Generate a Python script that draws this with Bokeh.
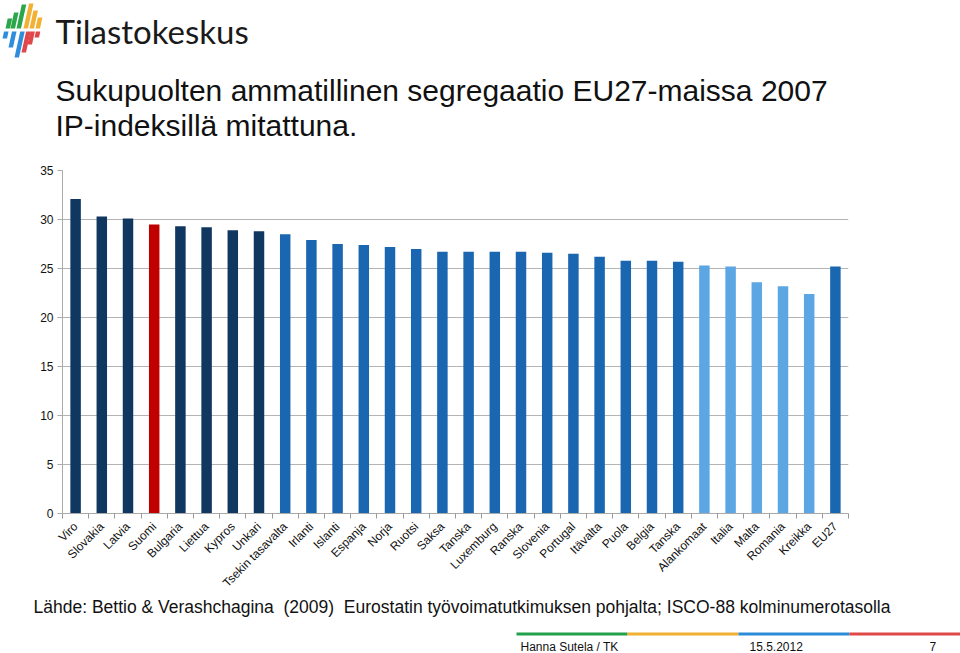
from bokeh.plotting import figure
from bokeh.layouts import column
from bokeh.models import FixedTicker, Range1d
from bokeh.core.properties import value
from bokeh.embed import file_html
from bokeh.resources import INLINE

countries = ["Viro", "Slovakia", "Latvia", "Suomi", "Bulgaria", "Liettua", "Kypros",
             "Unkari", "Tsekin tasavalta", "Irlanti", "Islanti", "Espanja", "Norja",
             "Ruotsi", "Saksa", "Tanska", "Luxemburg", "Ranska", "Slovenia", "Portugal",
             "Itävalta", "Puola", "Belgia", "Tanska", "Alankomaat", "Italia", "Malta",
             "Romania", "Kreikka", "EU27"]
ip_index = [32.1, 30.3, 30.1, 29.5, 29.3, 29.2, 28.9, 28.8, 28.5, 27.9, 27.5, 27.4, 27.2,
            27.0, 26.7, 26.7, 26.7, 26.7, 26.6, 26.5, 26.2, 25.8, 25.8, 25.7, 25.3, 25.2,
            23.6, 23.2, 22.4, 25.2]
groups = ["high"] * 3 + ["fi"] + ["high"] * 4 + ["mid"] * 16 + ["low"] * 5 + ["mid"]
y_ticks = [0, 5, 10, 15, 20, 25, 30, 35]

title_lines = ["Sukupuolten ammatillinen segregaatio EU27-maissa 2007",
               "IP-indeksillä mitattuna."]
source_text = ("Lähde: Bettio & Verashchagina \u00a0(2009) \u00a0Eurostatin työvoimatutkimuksen "
               "pohjalta; ISCO-88 kolminumerotasolla")
footer_texts = ["Hanna Sutela / TK", "15.5.2012", "7"]

palette = {"high": "#10375F", "fi": "#C00000", "mid": "#1A66B0", "low": "#5CA6E4"}

W = 960
H_HEAD, H_CHART, H_FOOT = 160, 437, 56
FONT = "Liberation Sans"


def blank(h):
    f = figure(width=W, height=h, output_backend="svg", toolbar_location=None,
               x_range=Range1d(0, W), y_range=Range1d(h, 0),
               x_axis_type=None, y_axis_type=None, frame_align=False,
               min_border=0, min_border_left=0, min_border_right=0,
               min_border_top=0, min_border_bottom=0)
    f.outline_line_color = None
    f.grid.visible = False
    return f


# ---------------- header: logo + title ----------------
head = blank(H_HEAD)
stripes = [
    (5, 18, 28, "#2CA64A"), (10, 12, 28, "#2CA64A"), (16, 4, 28, "#2CA64A"),
    (23, 3, 28, "#F2B134"), (29, 10, 28, "#F2B134"), (35, 17, 28, "#F2B134"),
    (2, 31, 38, "#2F8DDC"), (8, 31, 47, "#2F8DDC"), (14, 31, 57, "#2F8DDC"),
    (21, 31, 52, "#E0474A"), (27, 31, 44, "#E0474A"), (34, 31, 37, "#E0474A"),
]
pxs, pys, pcs = [], [], []
for x0, ytop, ybot, col in stripes:
    xt = x0 + 0.22 * (ybot - ytop)
    pxs.append([x0, x0 + 4.5, xt + 4.5, xt])
    pys.append([ybot, ybot, ytop, ytop])
    pcs.append(col)
head.patches(pxs, pys, fill_color=pcs, line_color=None)
head.text(x=[55], y=[30], text=["Tilastokeskus"], text_font=value("Lato"),
          text_font_size="33px", text_color="#1a1a1a", text_baseline="alphabetic")
head.text(x=[55, 55], y=[90, 125], text=title_lines, text_font=value(FONT),
          text_font_size="30px", text_color="#111111", text_baseline="alphabetic")

# ---------------- chart ----------------
p = figure(width=W, height=H_CHART, output_backend="svg", toolbar_location=None,
           x_range=Range1d(0, len(countries)), y_range=Range1d(0, 35), frame_align=False,
           min_border_left=62, min_border_right=112, min_border_top=10,
           min_border_bottom=84)
p.outline_line_color = None

xs = [i + 0.5 for i in range(len(countries))]
colors = [palette[g] for g in groups]
p.vbar(x=xs, top=ip_index, width=0.4, bottom=0, color=colors, line_color=None)

p.xaxis.ticker = FixedTicker(ticks=xs, minor_ticks=list(range(len(countries) + 1)))
p.xaxis.major_label_overrides = {x: c for x, c in zip(xs, countries)}
p.xaxis.major_label_orientation = 0.785398
p.xaxis.major_tick_line_color = None
p.xaxis.minor_tick_line_color = "#999999"
p.xaxis.minor_tick_out = 5
p.xaxis.minor_tick_in = 0
p.xaxis.axis_line_color = "#aaaaaa"
p.xaxis.major_label_text_font = FONT
p.xaxis.major_label_text_font_size = "12px"
p.xaxis.major_label_text_color = "#111111"
p.xaxis.major_label_standoff = 5

p.yaxis.ticker = FixedTicker(ticks=y_ticks)
p.yaxis.axis_line_color = "#aaaaaa"
p.yaxis.major_tick_line_color = "#aaaaaa"
p.yaxis.major_tick_out = 5
p.yaxis.major_tick_in = 0
p.yaxis.minor_tick_line_color = None
p.yaxis.major_label_text_font = FONT
p.yaxis.major_label_text_font_size = "12px"
p.yaxis.major_label_text_color = "#111111"
p.yaxis.major_label_standoff = 4

p.xgrid.grid_line_color = None
p.ygrid.grid_line_color = "#b4b4b4"
p.ygrid.ticker = FixedTicker(ticks=y_ticks)

# ---------------- footer ----------------
foot = blank(H_FOOT)
y0 = H_HEAD + H_CHART
foot.text(x=[33], y=[606 - y0], text=[source_text], text_font=value(FONT),
          text_font_size="17.5px", text_color="#111111", text_baseline="alphabetic")
foot.quad(left=[516, 627, 738, 849], right=[627, 738, 849, 960],
          top=[632 - y0] * 4, bottom=[635 - y0] * 4,
          fill_color=["#22A04B", "#F0B132", "#2B8BD8", "#E04848"], line_color=None)
foot.text(x=[520, 749, 929], y=[646 - y0] * 3, text=footer_texts, text_font=value(FONT),
          text_font_size="12px", text_color="#111111", text_baseline="alphabetic")

layout = column(head, p, foot, spacing=0)
open("out.html", "w").write(file_html(layout, INLINE))
